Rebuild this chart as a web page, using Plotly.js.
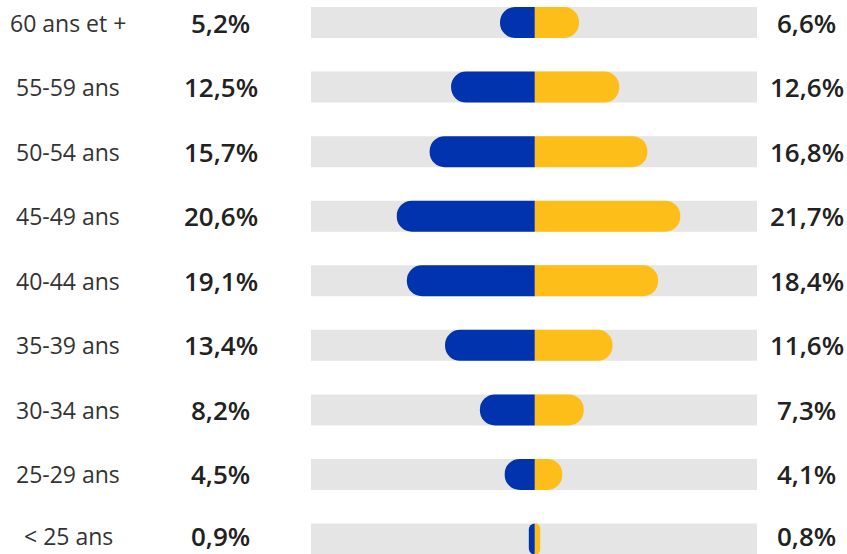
<!DOCTYPE html>
<html>
<head>
<meta charset="utf-8">
<script src="https://cdn.plot.ly/plotly-3.0.1.min.js"></script>
<style>
  html, body { margin: 0; padding: 0; background: #ffffff; }
  #chart { width: 847px; height: 554px; }
</style>
</head>
<body>
<div id="chart"></div>
<script>
// Age groups, top to bottom
const categories = ["60 ans et +", "55-59 ans", "50-54 ans", "45-49 ans", "40-44 ans", "35-39 ans", "30-34 ans", "25-29 ans", "< 25 ans"];
// Left (blue) series, percent
const leftValues = [5.2, 12.5, 15.7, 20.6, 19.1, 13.4, 8.2, 4.5, 0.9];
// Right (yellow) series, percent
const rightValues = [6.6, 12.6, 16.8, 21.7, 18.4, 11.6, 7.3, 4.1, 0.8];
// Labels shown next to the bars
const leftLabels = ["5,2%", "12,5%", "15,7%", "20,6%", "19,1%", "13,4%", "8,2%", "4,5%", "0,9%"];
const rightLabels = ["6,6%", "12,6%", "16,8%", "21,7%", "18,4%", "11,6%", "7,3%", "4,1%", "0,8%"];

const xMin = -33.4, xMax = 33.15;
const barW = 0.48;
const font = "Open Sans, Noto Sans, sans-serif";

const bg = {
  type: "bar", orientation: "h", y: categories,
  x: categories.map(() => xMax - xMin), base: xMin,
  xaxis: "x", yaxis: "y",
  width: barW, marker: { color: "#e5e5e5", line: { width: 0 } }, hoverinfo: "skip", showlegend: false
};
const left = {
  type: "bar", orientation: "h", y: categories,
  x: leftValues.map(v => -v),
  xaxis: "x2", yaxis: "y2",
  width: barW, marker: { color: "#0033ad", cornerradius: 15, line: { width: 0 } },
  hoverinfo: "skip", showlegend: false
};
const right = {
  type: "bar", orientation: "h", y: categories,
  x: rightValues,
  xaxis: "x2", yaxis: "y2",
  width: barW, marker: { color: "#fdbe19", cornerradius: 15, line: { width: 0 } },
  hoverinfo: "skip", showlegend: false
};

const annotations = [];
categories.forEach((c, i) => {
  const ys = (i === categories.length - 1) ? 3 : 0;
  annotations.push({ xref: "paper", yref: "y", x: -0.5448, y: c, text: c, showarrow: false,
    xanchor: "center", yanchor: "middle", height: 28, borderpad: 0, yshift: ys,
    font: { family: font, size: 23, color: "#333333" } });
  annotations.push({ xref: "paper", yref: "y", x: -0.2018, y: c, text: leftLabels[i], showarrow: false,
    xanchor: "center", yanchor: "middle", height: 30, borderpad: 0, yshift: ys,
    font: { family: font, size: 26, color: "#222222", weight: 600 } });
  annotations.push({ xref: "paper", yref: "y", x: 1.1121, y: c, text: rightLabels[i], showarrow: false,
    xanchor: "center", yanchor: "middle", height: 30, borderpad: 0, yshift: ys,
    font: { family: font, size: 26, color: "#222222", weight: 600 } });
});

const yRange = [8.232, -0.3485];
const layout = {
  width: 847, height: 554,
  margin: { l: 311, r: 90, t: 0, b: 0, pad: 0 },
  paper_bgcolor: "#ffffff", plot_bgcolor: "#ffffff",
  barmode: "relative",
  showlegend: false,
  xaxis: { range: [xMin, xMax], visible: false, fixedrange: true },
  yaxis: { type: "category", categoryorder: "array", categoryarray: categories,
           range: yRange, visible: false, fixedrange: true },
  xaxis2: { range: [xMin, xMax], visible: false, fixedrange: true, overlaying: "x", anchor: "y2" },
  yaxis2: { type: "category", categoryorder: "array", categoryarray: categories,
            range: yRange, visible: false, fixedrange: true, overlaying: "y", anchor: "x2" },
  annotations: annotations
};

Plotly.newPlot("chart", [bg, left, right], layout, { staticPlot: true, displayModeBar: false });
</script>
</body>
</html>
